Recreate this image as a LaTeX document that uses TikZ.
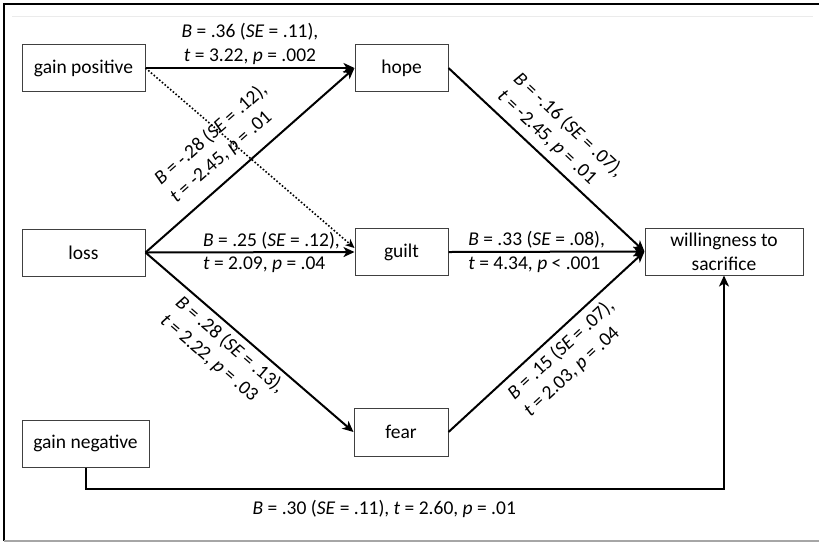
\documentclass[tikz,border=0pt]{standalone}
\usepackage{fontspec}
\setmainfont{Carlito}
\usetikzlibrary{arrows.meta}
\begin{document}
\begin{tikzpicture}[x=1pt,y=-1pt,
  box/.style={draw=black!75, line width=1pt, minimum height=47pt, inner sep=0pt, align=center, font=\fontsize{19.5}{24}\selectfont},
  arr/.style={line width=2pt, -{Stealth[length=11pt,width=10pt,inset=3pt]}},
  lbl/.style={font=\fontsize{19.5}{23.5}\selectfont, inner sep=0pt, align=left},
  dots/.style={dotted, line width=1.6pt, -{Stealth[length=9pt,width=8pt,inset=2.5pt]}}]
\useasboundingbox (0,0) rectangle (819,542);
\fill[white] (0,0) rectangle (819,542);
% frame
\draw[line width=1.5pt] (819,4) -- (4,4) -- (4,541);
\draw[gray!70, line width=1.5pt] (4,541) -- (819,541);
\draw[black!8, line width=1pt] (12,16) -- (813,16);
% nodes
\node[box, minimum width=123pt] (gp) at (83.5,68) {gain positive};
\node[box, minimum width=123pt] (loss) at (83.5,252.5) {loss};
\node[box, minimum width=93pt] (hope) at (401.5,68) {hope};
\node[box, minimum width=93pt] (guilt) at (401.5,252) {guilt};
\node[box, minimum width=94pt, minimum height=48pt] (fear) at (401,432) {fear};
\node[box, minimum width=158pt] (will) at (724,251.5) {willingness to\\sacrifice};
\node[box, minimum width=127pt] (gneg) at (85.5,443.5) {gain negative};
% connectors
\draw[arr] (gp.east) -- node[lbl, midway, above=2.5pt, align=center]{\textit{B} = .36 (\textit{SE} = .11),\\\textit{t} = 3.22, \textit{p} = .002} (hope.west);
\draw[dots] (gp.east) -- ([yshift=4pt]guilt.west);
\draw[arr] (loss.east) -- node[lbl, sloped, pos=0.197, above=12pt, anchor=south west]{\textit{B} = -.28 (\textit{SE} = .12),\\\textit{t} = -2.45, \textit{p} = .01} (hope.west);
\draw[arr] (loss.east) -- node[lbl, pos=0.271, anchor=west]{\textit{B} = .25 (\textit{SE} = .12),\\\textit{t} = 2.09, \textit{p} = .04} (guilt.west);
\draw[arr] (loss.east) -- node[lbl, sloped, pos=0.2, below=5pt, anchor=north west]{\textit{B} = .28 (\textit{SE} = .13),\\\textit{t} = 2.22, \textit{p} = .03} (fear.west);
\draw[arr] (hope.east) -- node[lbl, sloped, pos=0.203, above=7pt, anchor=south west]{\textit{B} = -.16 (\textit{SE} = .07),\\\textit{t} = -2.45, \textit{p} = .01} (will.west);
\draw[arr] (guilt.east) -- node[lbl, pos=0.096, anchor=west]{\textit{B} = .33 (\textit{SE} = .08),\\\textit{t} = 4.34, \textit{p} < .001} (will.west);
\draw[arr] (fear.east) -- node[lbl, sloped, pos=0.26, below=6pt, anchor=north west]{\textit{B} = .15 (\textit{SE} = .07),\\\textit{t} = 2.03, \textit{p} = .04} (will.west);
\draw[arr] (gneg.south) -- ++(0,21) -| node[lbl, pos=0.234, yshift=-20pt]{\textit{B} = .30 (\textit{SE} = .11), \textit{t} = 2.60, \textit{p} = .01} (will.south);
\end{tikzpicture}
\end{document}
